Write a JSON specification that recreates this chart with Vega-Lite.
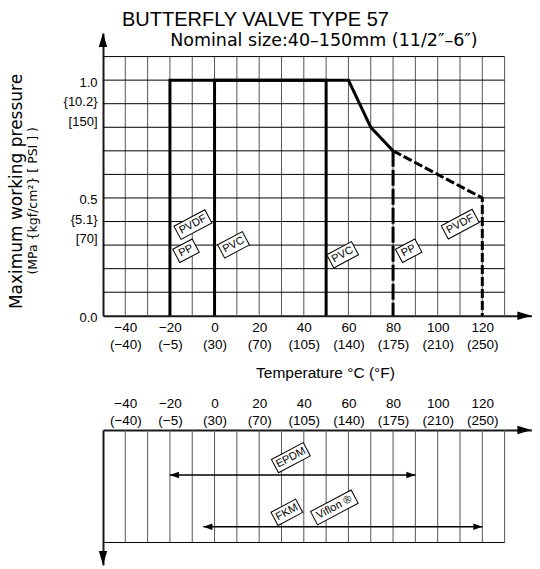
{
  "$schema": "https://vega.github.io/schema/vega-lite/v6.json",
  "background": "white",
  "padding": {"left": 8, "top": 9, "right": 4, "bottom": 1},
  "config": {
    "view": {"stroke": null},
    "font": "Liberation Sans",
    "axis": {"grid": false, "ticks": false, "tickSize": 0, "domainColor": "#1a1a1a", "domainWidth": 2, "labelColor": "black", "titleColor": "black", "labelFont": "Liberation Sans", "labelFlush": false, "labelOverlap": false, "titleFontWeight": "normal"}
  },
  "title": {"text": "BUTTERFLY VALVE TYPE 57", "font": "Liberation Sans", "fontSize": 20, "fontWeight": "normal", "color": "black", "anchor": "start", "frame": "group", "dx": 19, "offset": 2},
  "spacing": 15,
  "resolve": {"scale": {"x": "independent", "y": "independent", "shape": "independent"}},
  "datasets": {
    "grid_t": [{"t": -40}, {"t": -30}, {"t": -20}, {"t": -10}, {"t": 0}, {"t": 10}, {"t": 20}, {"t": 30}, {"t": 40}, {"t": 50}, {"t": 60}, {"t": 70}, {"t": 80}, {"t": 90}, {"t": 100}, {"t": 110}, {"t": 120}, {"t": 130}],
    "grid_p": [{"p": 0.1}, {"p": 0.2}, {"p": 0.3}, {"p": 0.4}, {"p": 0.5}, {"p": 0.6}, {"p": 0.7}, {"p": 0.8}, {"p": 0.9}, {"p": 1.0}, {"p": 1.1}],
    "limits": [
      {"seg": "A", "material": "PVC", "o": 0, "t": 0, "p": 0},
      {"seg": "A", "material": "PVC", "o": 1, "t": 0, "p": 1.0},
      {"seg": "A", "material": "PVC", "o": 2, "t": 50, "p": 1.0},
      {"seg": "A", "material": "PVC", "o": 3, "t": 50, "p": 0},
      {"seg": "B", "material": "PP/PVDF", "o": 0, "t": -20, "p": 0},
      {"seg": "B", "material": "PP/PVDF", "o": 1, "t": -20, "p": 1.0},
      {"seg": "B", "material": "PP/PVDF", "o": 2, "t": 60, "p": 1.0},
      {"seg": "B", "material": "PP/PVDF", "o": 3, "t": 70, "p": 0.8},
      {"seg": "B", "material": "PP/PVDF", "o": 4, "t": 80, "p": 0.7},
      {"seg": "E", "material": "PP", "o": 0, "t": 80, "p": 0.7},
      {"seg": "E", "material": "PP", "o": 1, "t": 80, "p": 0},
      {"seg": "F", "material": "PVDF", "o": 0, "t": 80, "p": 0.7},
      {"seg": "F", "material": "PVDF", "o": 1, "t": 120, "p": 0.5},
      {"seg": "F", "material": "PVDF", "o": 2, "t": 120, "p": 0}
    ],
    "tags": [
      {"label": "PVDF", "t": -9.7, "p": 0.387},
      {"label": "PP", "t": -12.8, "p": 0.276},
      {"label": "PVC", "t": 8.5, "p": 0.301},
      {"label": "PVC", "t": 57.4, "p": 0.259},
      {"label": "PP", "t": 87.0, "p": 0.276},
      {"label": "PVDF", "t": 110.1, "p": 0.389}
    ],
    "notes": [
      {"note": "Nominal size:40–150mm (11/2″–6″)", "t": -19.9, "p": 1.1455}
    ],
    "seals": [
      {"material": "EPDM", "tmin": -20, "tmax": 90, "row": 2},
      {"material": "FKM, Viflon ®", "tmin": -5, "tmax": 120, "row": 4.3}
    ],
    "seal_tags": [
      {"label": "EPDM", "t": 34.2, "row": 1.23},
      {"label": "FKM", "t": 32.4, "row": 3.66},
      {"label": "Viflon ®", "t": 53.7, "row": 3.44}
    ]
  },
  "vconcat": [
    {
      "width": 428.4,
      "height": 282.8,
      "layer": [
        {
          "data": {"name": "grid_t"},
          "mark": {"type": "rule", "color": "#555555", "strokeWidth": 1},
          "encoding": {"x": {"field": "t", "type": "quantitative"}, "y": {"datum": 0}, "y2": {"datum": 1.1}}
        },
        {
          "data": {"name": "grid_p"},
          "mark": {"type": "rule", "color": "black", "strokeWidth": 1},
          "encoding": {"y": {"field": "p", "type": "quantitative"}, "x": {"datum": -50}, "x2": {"datum": 130}}
        },
        {
          "data": {"name": "limits"},
          "mark": {"type": "line", "color": "black", "strokeWidth": 3, "strokeCap": "butt"},
          "encoding": {
            "x": {"field": "t", "type": "quantitative", "scale": {"domain": [-50, 142], "nice": false, "zero": false},
              "axis": {"values": [-40, -20, 0, 20, 40, 60, 80, 100, 120], "labelExpr": "[datum.label, ['(−40)','(−5)','(30)','(70)','(105)','(140)','(175)','(210)','(250)'][(datum.value+40)/20]]", "labelFontSize": 13.5, "labelLineHeight": 17, "labelBaseline": "top", "labelPadding": 5, "title": "Temperature °C (°F)", "titleFont": "Liberation Sans", "titleFontSize": 15.5, "titlePadding": 14, "titleX": 222}},
            "y": {"field": "p", "type": "quantitative", "scale": {"domain": [0, 1.2], "nice": false, "zero": false},
              "axis": {"values": [0, 0.5, 1], "labelExpr": "datum.value == 1 ? ['1.0','{10.2}','[150]'] : datum.value == 0.5 ? ['0.5','{5.1}','[70]'] : '0.0'", "labelFontSize": 13, "labelLineHeight": 19.5, "labelBaseline": "top", "labelOffset": -4, "labelPadding": 6, "labelAlign": "right", "title": "Maximum working pressure", "titleFont": "DejaVu Sans", "titleFontSize": 17, "titleX": -86, "titleY": 158, "titleBaseline": "middle", "titleAlign": "center"}},
            "detail": {"field": "seg"},
            "order": {"field": "o"},
            "strokeDash": {"field": "material", "type": "nominal", "scale": {"domain": ["PVC", "PP/PVDF", "PP", "PVDF"], "range": [[1, 0], [1, 0], [16, 3], [9, 3]]}, "legend": null}
          }
        },
        {
          "data": {"name": "tags"},
          "mark": {"type": "point", "filled": true, "fill": "white", "stroke": "black", "strokeWidth": 1, "opacity": 1, "angle": 332, "size": 1600},
          "encoding": {
            "x": {"field": "t", "type": "quantitative"},
            "y": {"field": "p", "type": "quantitative"},
            "shape": {"field": "label", "type": "nominal", "scale": {"domain": ["PVDF", "PP", "PVC", "EPDM", "FKM", "Viflon ®"], "range": ["M-0.875,-0.375L0.875,-0.375L0.875,0.375L-0.875,0.375Z", "M-0.55,-0.375L0.55,-0.375L0.55,0.375L-0.55,0.375Z", "M-0.7,-0.375L0.7,-0.375L0.7,0.375L-0.7,0.375Z", "M-0.9,-0.375L0.9,-0.375L0.9,0.375L-0.9,0.375Z", "M-0.7,-0.375L0.7,-0.375L0.7,0.375L-0.7,0.375Z", "M-1.15,-0.375L1.15,-0.375L1.15,0.375L-1.15,0.375Z"]}, "legend": null}
          }
        },
        {
          "data": {"name": "tags"},
          "mark": {"type": "text", "angle": 332, "font": "Liberation Sans", "fontSize": 11, "align": "center", "baseline": "middle", "color": "black"},
          "encoding": {"x": {"field": "t", "type": "quantitative"}, "y": {"field": "p", "type": "quantitative"}, "text": {"field": "label"}}
        },
        {
          "data": {"values": [{"note": "(MPa {kgf/cm²} [ PSI ] )", "t": -81.3, "p": 0.488}]},
          "mark": {"type": "text", "angle": 270, "font": "DejaVu Sans", "fontSize": 12.5, "align": "center", "baseline": "middle", "color": "black"},
          "encoding": {"x": {"field": "t", "type": "quantitative"}, "y": {"field": "p", "type": "quantitative"}, "text": {"field": "note"}}
        },
        {
          "data": {"name": "notes"},
          "mark": {"type": "text", "font": "DejaVu Sans", "fontSize": 17.5, "align": "left", "baseline": "alphabetic", "color": "black"},
          "encoding": {"x": {"field": "t", "type": "quantitative"}, "y": {"field": "p", "type": "quantitative"}, "text": {"field": "note"}}
        },
        {
          "data": {"values": [{}]},
          "mark": {"type": "point", "shape": "M0,0L-0.3,1L0.3,1Z", "size": 784, "filled": true, "color": "black", "opacity": 1},
          "encoding": {"x": {"datum": -50}, "y": {"datum": 1.2}}
        },
        {
          "data": {"values": [{}]},
          "mark": {"type": "point", "shape": "M0,0L-1,-0.3L-1,0.3Z", "size": 784, "filled": true, "color": "black", "opacity": 1},
          "encoding": {"x": {"datum": 142}, "y": {"datum": 0}}
        }
      ]
    },
    {
      "width": 428.4,
      "height": 135,
      "layer": [
        {
          "data": {"name": "grid_t"},
          "mark": {"type": "rule", "color": "#555555", "strokeWidth": 1},
          "encoding": {"x": {"field": "t", "type": "quantitative"}, "y": {"datum": 0}, "y2": {"datum": 5}}
        },
        {
          "data": {"values": [{}]},
          "mark": {"type": "rule", "color": "black", "strokeWidth": 1},
          "encoding": {"x": {"datum": -50}, "x2": {"datum": 130}, "y": {"datum": 5}}
        },
        {
          "data": {"name": "seals"},
          "mark": {"type": "rule", "color": "black", "strokeWidth": 1.5},
          "encoding": {
            "x": {"field": "tmin", "type": "quantitative", "scale": {"domain": [-50, 142], "nice": false, "zero": false},
              "axis": {"orient": "top", "values": [-40, -20, 0, 20, 40, 60, 80, 100, 120], "labelExpr": "[datum.label, ['(−40)','(−5)','(30)','(70)','(105)','(140)','(175)','(210)','(250)'][(datum.value+40)/20]]", "labelFontSize": 13.5, "labelLineHeight": 17.4, "labelBaseline": "top", "labelPadding": 33.4, "title": null}},
            "x2": {"field": "tmax"},
            "y": {"field": "row", "type": "quantitative", "scale": {"domain": [0, 6], "reverse": true, "nice": false, "zero": false}, "axis": {"labels": false, "title": null, "domain": true}}
          }
        },
        {
          "data": {"name": "seals"},
          "mark": {"type": "point", "shape": "M0,0L1,-0.35L1,0.35Z", "size": 324, "filled": true, "color": "black", "opacity": 1},
          "encoding": {"x": {"field": "tmin", "type": "quantitative"}, "y": {"field": "row", "type": "quantitative"}}
        },
        {
          "data": {"name": "seals"},
          "mark": {"type": "point", "shape": "M0,0L-1,-0.35L-1,0.35Z", "size": 324, "filled": true, "color": "black", "opacity": 1},
          "encoding": {"x": {"field": "tmax", "type": "quantitative"}, "y": {"field": "row", "type": "quantitative"}}
        },
        {
          "data": {"name": "seal_tags"},
          "mark": {"type": "point", "filled": true, "fill": "white", "stroke": "black", "strokeWidth": 1, "opacity": 1, "angle": 332, "size": 1600},
          "encoding": {
            "x": {"field": "t", "type": "quantitative"},
            "y": {"field": "row", "type": "quantitative"},
            "shape": {"field": "label", "type": "nominal", "scale": {"domain": ["PVDF", "PP", "PVC", "EPDM", "FKM", "Viflon ®"], "range": ["M-0.875,-0.375L0.875,-0.375L0.875,0.375L-0.875,0.375Z", "M-0.55,-0.375L0.55,-0.375L0.55,0.375L-0.55,0.375Z", "M-0.7,-0.375L0.7,-0.375L0.7,0.375L-0.7,0.375Z", "M-0.9,-0.375L0.9,-0.375L0.9,0.375L-0.9,0.375Z", "M-0.7,-0.375L0.7,-0.375L0.7,0.375L-0.7,0.375Z", "M-1.15,-0.375L1.15,-0.375L1.15,0.375L-1.15,0.375Z"]}, "legend": null}
          }
        },
        {
          "data": {"name": "seal_tags"},
          "mark": {"type": "text", "angle": 332, "font": "Liberation Sans", "fontSize": 11, "align": "center", "baseline": "middle", "color": "black"},
          "encoding": {"x": {"field": "t", "type": "quantitative"}, "y": {"field": "row", "type": "quantitative"}, "text": {"field": "label"}}
        },
        {
          "data": {"values": [{}]},
          "mark": {"type": "point", "shape": "M0,0L-0.3,-1L0.3,-1Z", "size": 784, "filled": true, "color": "black", "opacity": 1},
          "encoding": {"x": {"datum": -50}, "y": {"datum": 6}}
        },
        {
          "data": {"values": [{}]},
          "mark": {"type": "point", "shape": "M0,0L-1,-0.3L-1,0.3Z", "size": 784, "filled": true, "color": "black", "opacity": 1},
          "encoding": {"x": {"datum": 142}, "y": {"datum": 0}}
        }
      ]
    }
  ]
}
